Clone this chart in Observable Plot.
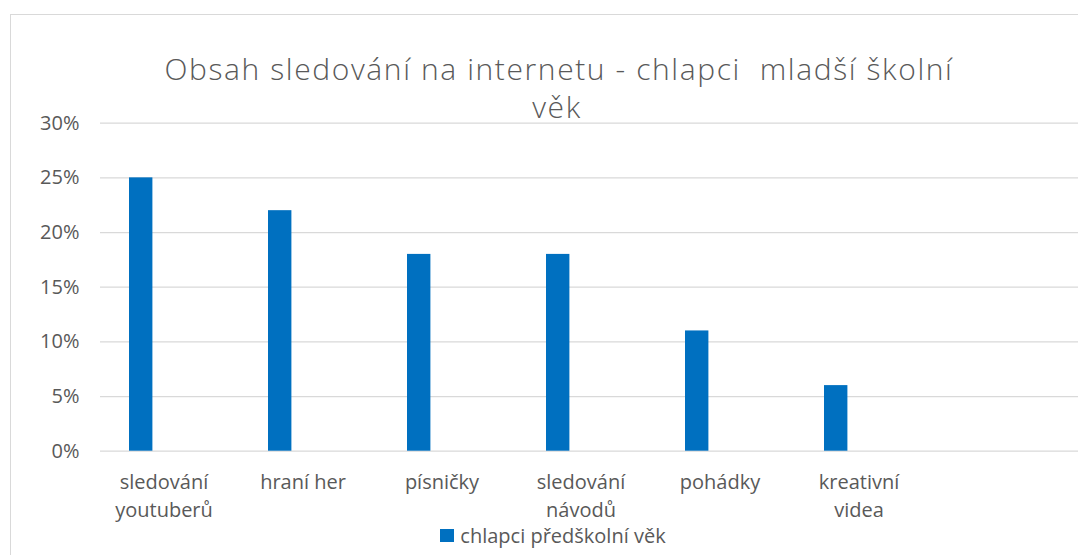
<!DOCTYPE html>
<html>
<head>
<meta charset="utf-8">
<script src="https://cdn.jsdelivr.net/npm/d3@7"></script>
<script src="https://cdn.jsdelivr.net/npm/@observablehq/plot@0.6"></script>
<style>
  html, body { margin: 0; padding: 0; background: #fff; }
  body { width: 1078px; height: 555px; overflow: hidden; position: relative; font-family: "Open Sans", Lato, sans-serif; }
  #frame { position: absolute; left: 10px; top: 14px; width: 1120px; height: 600px; border: 1px solid #d9d9d9; box-sizing: border-box; pointer-events: none; }
  #title { position: relative; height: 100px; width: 1078px; text-align: center; color: #595959; font-family: "Open Sans", sans-serif; font-weight: 300; font-size: 30px; letter-spacing: 1.6px; white-space: pre; }
  #title .l1 { position: absolute; left: 20px; width: 1078px; top: 50px; line-height: 38px; }
  #title .l2 { position: absolute; left: 18px; width: 1078px; top: 88px; line-height: 38px; }
  #chart { position: relative; }
  #legend { position: relative; height: 28px; width: 1078px; text-align: center; color: #595959; font-size: 20px; line-height: 24px; }
  #legend span.item { position: relative; left: 14px; top: -4px; display: inline-flex; align-items: center; }
  #legend .sw { width: 14px; height: 13px; background: #0070c0; display: inline-block; margin-right: 6px; }
</style>
</head>
<body>
<div id="frame"></div>
<div id="title"><div class="l1"></div><div class="l2"></div></div>
<div id="chart"></div>
<div id="legend"></div>
<script>
const titleLines = ["Obsah sledování na internetu - chlapci  mladší školní", "věk"];
const categories = ["sledování\nyoutuberů", "hraní her", "písničky", "sledování\nnávodů", "pohádky", "kreativní\nvidea"];
const values = [0.25, 0.22, 0.18, 0.18, 0.11, 0.06];
const seriesName = "chlapci předškolní věk";
const yTicks = [0, 0.05, 0.10, 0.15, 0.20, 0.25, 0.30];
const barColor = "#0070c0";

document.querySelector("#title .l1").textContent = titleLines[0];
document.querySelector("#title .l2").textContent = titleLines[1];

const data = categories.map((c, i) => ({category: c, value: values[i], series: seriesName}));

const slot = 139.6;
const left = 100;

const chart = Plot.plot({
  width: 1078,
  height: 427,
  marginLeft: left,
  marginRight: 0,
  marginTop: 22.7,
  marginBottom: 76.3,
  style: {fontFamily: "'Open Sans', Lato, sans-serif", fontSize: "20px", color: "#595959", background: "transparent", overflow: "visible"},
  x: {domain: categories, range: [left, left + slot * categories.length], padding: 0, axis: null},
  y: {domain: [0, 0.3], ticks: yTicks},
  marks: [
    Plot.ruleY(yTicks, {stroke: "#d9d9d9", strokeWidth: 1.3}),
    Plot.barY(data, {x: "category", y: "value", fill: barColor, insetLeft: 27, insetRight: slot - 27 - 24}),
    Plot.axisY({ticks: yTicks, tickFormat: d3.format(".0%"), tickSize: 0, tickPadding: 21, label: null, fill: "#595959", fontSize: 20}),
    Plot.text(categories, {x: d => d, frameAnchor: "bottom", lineAnchor: "top", dy: 18, dx: -8, lineHeight: 1.4, fontSize: 20, fill: "#595959"})
  ]
});
document.getElementById("chart").appendChild(chart);

const lg = document.getElementById("legend");
const item = document.createElement("span");
item.className = "item";
const sw = document.createElement("span");
sw.className = "sw";
item.appendChild(sw);
item.appendChild(document.createTextNode(seriesName));
lg.appendChild(item);
</script>
</body>
</html>
